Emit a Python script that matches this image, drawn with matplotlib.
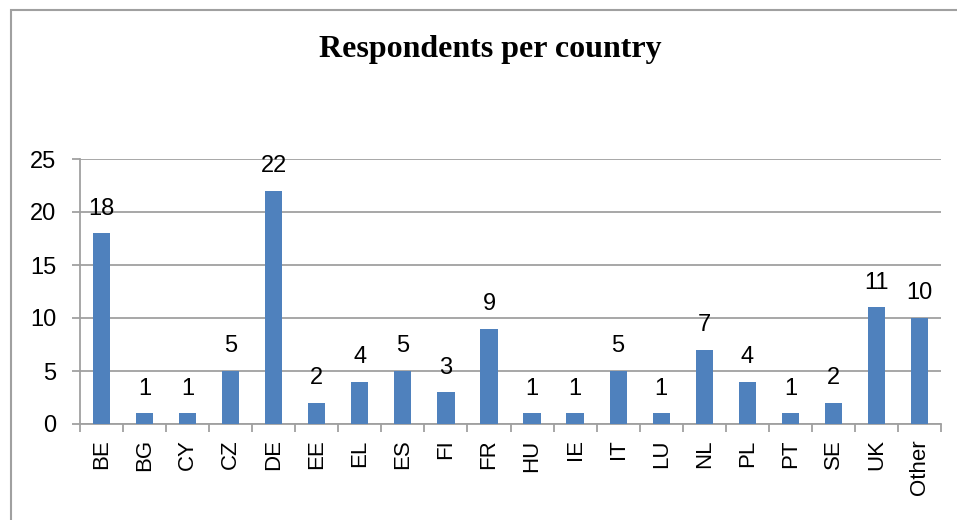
import matplotlib
matplotlib.use("Agg")
import matplotlib.pyplot as plt
from matplotlib.patches import Rectangle
from matplotlib.ticker import FixedLocator
import numpy as np

categories = ["BE", "BG", "CY", "CZ", "DE", "EE", "EL", "ES", "FI", "FR",
              "HU", "IE", "IT", "LU", "NL", "PL", "PT", "SE", "UK", "Other"]
values = [18, 1, 1, 5, 22, 2, 4, 5, 3, 9, 1, 1, 5, 1, 7, 4, 1, 2, 11, 10]
title = "Respondents per country"

fig = plt.figure(figsize=(9.57, 5.2), dpi=100)
ax = fig.add_axes([80/957, 1-424/520, (941-80)/957, (424-159)/520])

grid_col = "#A0A0A0"
bar_col = "#4F81BD"
x = np.arange(len(categories))
ax.bar(x, values, width=0.4, color=bar_col, zorder=3)
for xi, v in zip(x, values):
    ax.text(xi, v + 1.75, str(v), ha="center", va="baseline",
            fontsize=17, family="Liberation Sans", color="black", zorder=4)

ax.set_xlim(-0.5, len(categories) - 0.5)
ax.set_ylim(0, 25)
ax.set_yticks([0, 5, 10, 15, 20, 25])
ax.yaxis.grid(True, color=grid_col, linewidth=1.3, zorder=0)
ax.set_axisbelow(True)

ax.set_xticks(x)
ax.set_xticklabels(categories, rotation=90, fontsize=16, family="Liberation Sans")
ax.tick_params(axis="x", length=0, pad=11)
ax.xaxis.set_minor_locator(FixedLocator(np.arange(-0.5, len(categories), 1.0)))
ax.tick_params(axis="x", which="minor", length=6, width=1.3, color=grid_col)
ax.tick_params(axis="y", length=6, width=1.3, color=grid_col, labelsize=17, pad=11)
for lbl in ax.get_yticklabels():
    lbl.set_family("Liberation Sans")

for s in ["top", "right"]:
    ax.spines[s].set_visible(False)
for s in ["left", "bottom"]:
    ax.spines[s].set_color(grid_col)
    ax.spines[s].set_linewidth(1.3)

fig.text(490/957, 1-50/520, title, ha="center", va="center",
         fontsize=23, fontweight="bold", family="Liberation Serif")

fig.patches.append(Rectangle((11/957, -0.1), 1.2, 1 - 10/520 + 0.1,
                             transform=fig.transFigure, fill=False,
                             edgecolor="#A0A0A0", linewidth=1.5))

fig.savefig("out.png", dpi=100)
